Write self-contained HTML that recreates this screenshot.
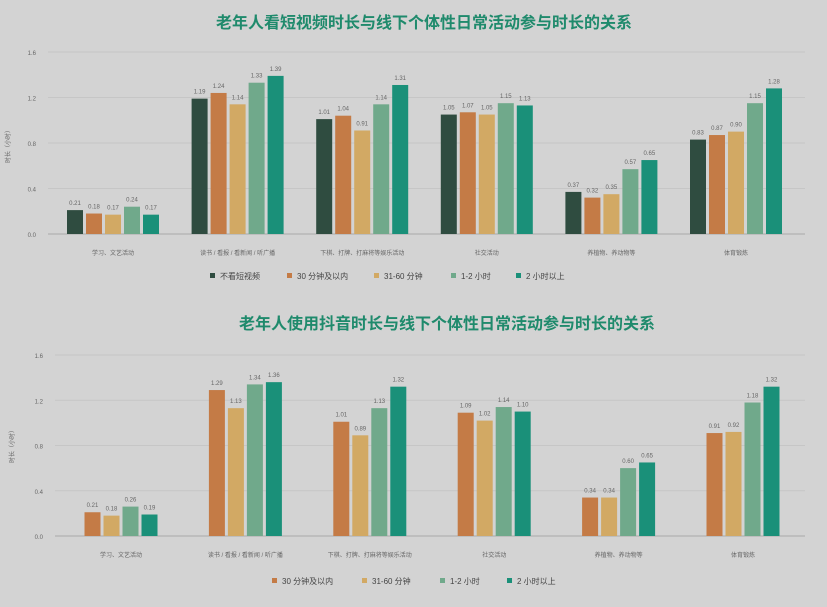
<!DOCTYPE html>
<html><head><meta charset="utf-8">
<style>
html,body{margin:0;padding:0;background:#d3d3d3;}
body{width:827px;height:602px;overflow:hidden;font-family:"Liberation Sans","Noto Sans CJK SC",sans-serif;}
svg text{font-family:"Liberation Sans","Noto Sans CJK SC",sans-serif;}
</style></head>
<body>
<svg id="s" width="827" height="602" viewBox="0 0 827 602">
<rect width="827" height="602" fill="#d3d3d3"/>
<text x="424" y="28" text-anchor="middle" font-size="16" font-weight="bold" fill="#1f8a6c">老年人看短视频时长与线下个体性日常活动参与时长的关系</text>
<text x="447" y="329" text-anchor="middle" font-size="16" font-weight="bold" fill="#1f8a6c">老年人使用抖音时长与线下个体性日常活动参与时长的关系</text>
</svg>
<script>
const categories=["学习、文艺活动","读书 / 看报 / 看新闻 / 听广播","下棋、打牌、打麻将等娱乐活动","社交活动","养植物、养动物等","体育锻炼"];
const yTicks=[0,0.4,0.8,1.2,1.6];
const yTickLabels=["0.0","0.4","0.8","1.2","1.6"];
const series1Names=["不看短视频","30 分钟及以内","31-60 分钟","1-2 小时","2 小时以上"];
const c1None=[0.21,1.19,1.01,1.05,0.37,0.83];
const c1Under30=[0.18,1.24,1.04,1.07,0.32,0.87];
const c1To60=[0.17,1.14,0.91,1.05,0.35,0.90];
const c1To2h=[0.24,1.33,1.14,1.15,0.57,1.15];
const c1Over2h=[0.17,1.39,1.31,1.13,0.65,1.28];
const series2Names=["30 分钟及以内","31-60 分钟","1-2 小时","2 小时以上"];
const c2Under30=[0.21,1.29,1.01,1.09,0.34,0.91];
const c2To60=[0.18,1.13,0.89,1.02,0.34,0.92];
const c2To2h=[0.26,1.34,1.13,1.14,0.60,1.18];
const c2Over2h=[0.19,1.36,1.32,1.10,0.65,1.32];

const colors5=["#2f4c40","#c47b46","#d2a964","#70a98b","#1a9079"];
const colors4=colors5.slice(1);
const NS="http://www.w3.org/2000/svg";
const svg=document.getElementById('s');
function mk(tag,attrs,txt){const e=document.createElementNS(NS,tag);for(const k in attrs)e.setAttribute(k,attrs[k]);if(txt!==undefined)e.textContent=txt;svg.appendChild(e);return e;}

function drawChart(cfg){
  const y=v=>cfg.y0-(v/1.6)*(cfg.y0-cfg.y16);
  const x=i=>cfg.gx0+i*cfg.gstep;
  yTicks.forEach((t,i)=>{
    const l=mk('line',{x1:cfg.left,x2:cfg.right,y1:y(t),y2:y(t),stroke:i===0?'#aaa':'#c6c6c6','stroke-width':1});
    
    
    const tl=mk('text',{x:cfg.left-12,y:y(t)+3,'font-size':6,fill:'#666','text-anchor':'end'},yTickLabels[i]);
    
    
  });
  const yt=mk('text',{x:0,y:0,'font-size':6,fill:'#666','text-anchor':'middle',transform:`translate(${cfg.ytx},${cfg.yty}) rotate(-90)`},'时长（小时）');
  
  
  const n=cfg.series.length;
  categories.forEach((c,gi)=>{
    const cx=x(gi);
    cfg.series.forEach((arr,si)=>{
      const bx=cx+(si-(n-1)/2)*19-8;
      const v=arr[gi];
      const r=mk('rect',{x:bx,y:y(v),width:16,height:y(0)-y(v),fill:cfg.colors[si]});
      
      
      const vl=mk('text',{x:bx+8,y:y(v)-5,'font-size':6,fill:'#666','text-anchor':'middle'},v.toFixed(2));
      
      
    });
    const cl=mk('text',{x:cx,y:cfg.y0+21,'font-size':6,fill:'#666','text-anchor':'middle'},c);
    
    
  });
  cfg.names.forEach((nm,i)=>{
    const lx=cfg.legX[i];
    const sq=mk('rect',{x:lx,y:cfg.legY-3,width:5,height:5,fill:cfg.colors[i]});
    
    
    const lt=mk('text',{x:lx+10,y:cfg.legY+3,'font-size':8,fill:'#444'},nm);
    
    
  });
}
drawChart({y0:234,y16:52,left:48,right:805,gx0:113,gstep:124.6,ytx:10,yty:145,
  series:[c1None,c1Under30,c1To60,c1To2h,c1Over2h],colors:colors5,names:series1Names,
  legY:276,legX:[210,287,374,451,516]});
drawChart({y0:536,y16:355,left:55,right:805,gx0:121,gstep:124.4,ytx:14,yty:445,
  series:[c2Under30,c2To60,c2To2h,c2Over2h],colors:colors4,names:series2Names,
  legY:581,legX:[272,362,440,507]});
</script>
</body></html>
